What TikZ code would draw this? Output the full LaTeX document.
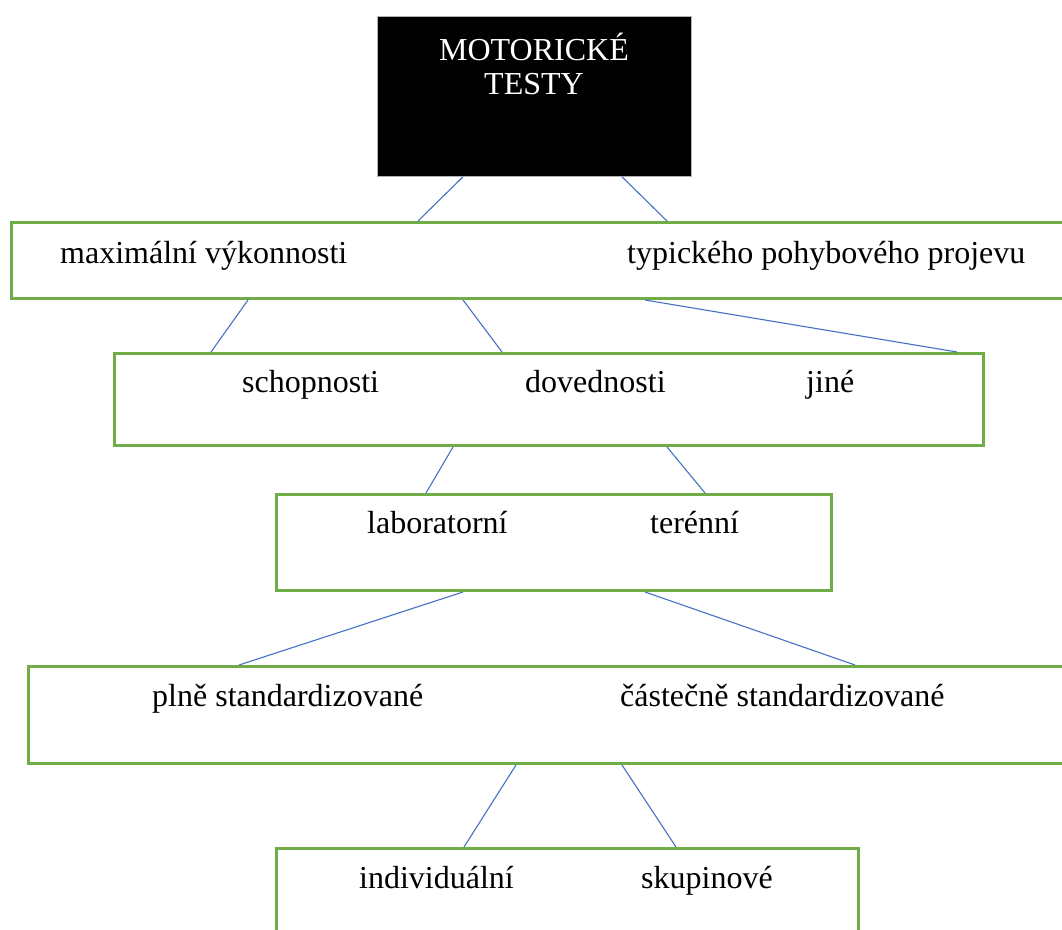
\documentclass[tikz,border=0pt]{standalone}
\usepackage{fontspec}
\setmainfont{Liberation Serif}
\definecolor{boxgreen}{RGB}{112,173,71}
\definecolor{linkblue}{RGB}{68,114,196}
\tikzset{
    box/.style={draw=boxgreen, line width=3pt, anchor=north west, inner sep=0pt},
    link/.style={draw=linkblue, line width=1.1pt},
    lbl/.style={anchor=base west, inner sep=0pt, font=\fontsize{32}{34}\selectfont},
}
\begin{document}
\begin{tikzpicture}[x=1pt, y=-1pt]
    \clip (0,0) rectangle (1062,929);
    \fill[white] (0,0) rectangle (1062,929);

    % boxes
    \node[fill=black, draw=gray!60, line width=0.8pt, anchor=north west, minimum width=314pt, minimum height=160pt] (motor) at (377,16) {};
    \node[box, minimum width=1065pt, minimum height=76pt] (vykon) at (10,221) {};
    \node[box, minimum width=869pt, minimum height=92pt] (druh) at (113,352) {};
    \node[box, minimum width=555pt, minimum height=96pt] (prostredi) at (275,493) {};
    \node[box, minimum width=1048pt, minimum height=97pt] (standard) at (27,665) {};
    \node[box, minimum width=582pt, minimum height=100pt] (forma) at (275,847) {};

    % texts
    \node[lbl, anchor=base, text=white, align=center] (nazev) at (534,94) {MOTORICKÉ\\TESTY};
    \node[lbl] (maxvykon) at (60,263) {maximální výkonnosti};
    \node[lbl] (typicky) at (627,263) {typického pohybového projevu};
    \node[lbl] (schop) at (242,392) {schopnosti};
    \node[lbl] (doved) at (525,392) {dovednosti};
    \node[lbl] (jine) at (806,392) {jiné};
    \node[lbl] (lab) at (367,533) {laboratorní};
    \node[lbl] (teren) at (650,533) {terénní};
    \node[lbl] (plne) at (152,706) {plně standardizované};
    \node[lbl] (castecne) at (620,706) {částečně standardizované};
    \node[lbl] (indiv) at (359,888) {individuální};
    \node[lbl] (skup) at (641,888) {skupinové};

    % connectors
    \draw[link] ([xshift=86pt]motor.south west) -- ([xshift=408pt]vykon.north west);
    \draw[link] ([xshift=245pt]motor.south west) -- ([xshift=657pt]vykon.north west);
    \draw[link] ([xshift=238pt]vykon.south west) -- ([xshift=98pt]druh.north west);
    \draw[link] ([xshift=453pt]vykon.south west) -- ([xshift=389pt]druh.north west);
    \draw[link] ([xshift=635pt]vykon.south west) -- ([xshift=844pt]druh.north west);
    \draw[link] ([xshift=340pt]druh.south west) -- ([xshift=151pt]prostredi.north west);
    \draw[link] ([xshift=554pt]druh.south west) -- ([xshift=430pt]prostredi.north west);
    \draw[link] ([xshift=188pt]prostredi.south west) -- ([xshift=212pt]standard.north west);
    \draw[link] ([xshift=370pt]prostredi.south west) -- ([xshift=828pt]standard.north west);
    \draw[link] ([xshift=489pt]standard.south west) -- ([xshift=189pt]forma.north west);
    \draw[link] ([xshift=595pt]standard.south west) -- ([xshift=401pt]forma.north west);
\end{tikzpicture}
\end{document}
